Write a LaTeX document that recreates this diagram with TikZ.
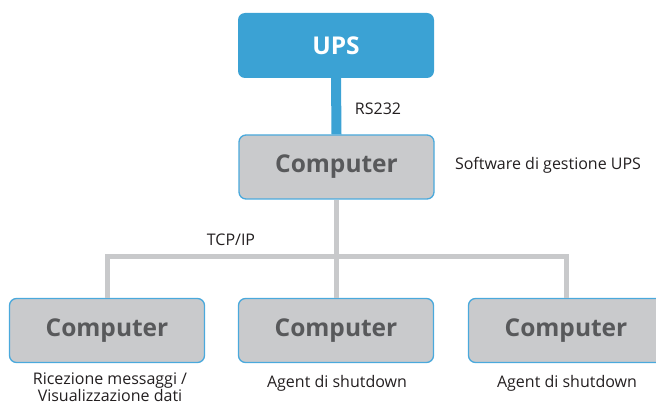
\documentclass[tikz,border=0pt]{standalone}
\usepackage{fontspec}
\setmainfont{Open Sans}
\definecolor{upsblue}{HTML}{3BA2D4}
\definecolor{boxgray}{HTML}{C9CACC}
\definecolor{edgeblue}{HTML}{4AA9DC}
\definecolor{linegray}{HTML}{C8C9CB}
\definecolor{txtdark}{HTML}{58595B}
\definecolor{lbl}{HTML}{231F20}
\begin{document}
\begin{tikzpicture}[x=1pt,y=-1pt,
  upsbox/.style={draw=none,fill=upsblue,rounded corners=7pt,minimum width=196pt,minimum height=65pt,inner sep=0pt,font=\fontsize{24.5}{28}\selectfont\bfseries,text=white},
  compbox/.style={draw=edgeblue,line width=1.3pt,fill=boxgray,rounded corners=7pt,minimum width=195pt,minimum height=64pt,inner sep=0pt,font=\fontsize{24.5}{28}\selectfont\bfseries,text=txtdark},
  lab/.style={font=\fontsize{16}{17}\selectfont,text=lbl,inner sep=0pt},
  serial/.style={line width=10pt,upsblue},
  net/.style={line width=5pt,linegray}]
\useasboundingbox (0,0) rectangle (656,406);
\clip (0,0) rectangle (656,406);
\node[upsbox] (ups) at (336,45.5) {UPS};
\node[compbox] (comp0) at (336.5,167) {Computer};
\node[compbox] (compL) at (107,330.5) {Computer};
\node[compbox] (compM) at (336,330.5) {Computer};
\node[compbox] (compR) at (566,330.5) {Computer};
\coordinate (bus) at (336.5,256.5);
\draw[serial] (ups.south) -- (comp0.north);
\draw[net] (comp0.south) -- (comp0.south |- compM.north);
\draw[net] (compL.north) |- (bus) -| (compR.north);
\node[lab] (rs) at (378,109) {RS232};
\node[lab] (tcp) at (231,240) {TCP/IP};
\node[lab] (sw) at (548,165) {Software di gestione UPS};
\node[lab,align=center] (ricez) at (110,387.5) {Ricezione messaggi /\\Visualizzazione dati};
\node[lab] (agM) at (337,383) {Agent di shutdown};
\node[lab] (agR) at (567,383) {Agent di shutdown};
\end{tikzpicture}
\end{document}
